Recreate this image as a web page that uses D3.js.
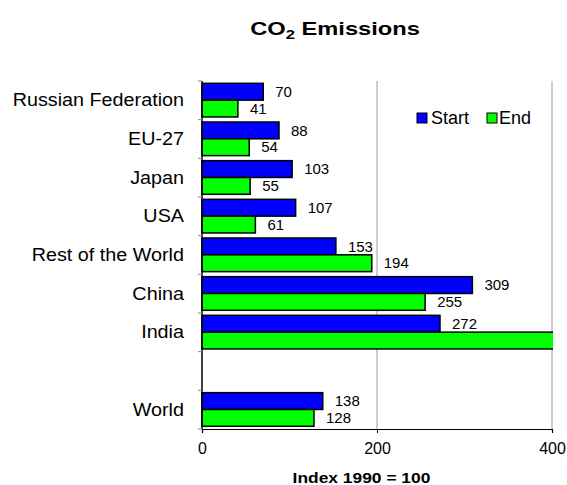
<!DOCTYPE html>
<html>
<head>
<meta charset="utf-8">
<script src="https://cdn.jsdelivr.net/npm/d3@7"></script>
<style>
    body { margin: 0; background: #fff; }
    svg { font-family: Arial, "Liberation Sans", sans-serif; }
</style>
</head>
<body>
<svg id="chart" width="567" height="485"></svg>
<script>
// chart data, top to bottom ('' is the empty gap row)
const categories = ['Russian Federation', 'EU-27', 'Japan', 'USA', 'Rest of the World', 'China', 'India', '', 'World'];
const startValues = [70, 88, 103, 107, 153, 309, 272, null, 138];
const endValues = [41, 54, 55, 61, 194, 255, 450, null, 128];
const seriesNames = ['Start', 'End'];
const seriesColors = ['#0000ff', '#00ff00'];
const xTicks = [0, 200, 400];

const svg = d3.select('#chart');
const plotLeft = 202, plotRight = 552, plotTop = 81, plotBottom = 429;

const x = d3.scaleLinear().domain([0, 400]).range([plotLeft, plotRight]);
const y = d3.scaleBand().domain(categories).range([plotTop, plotBottom]).padding(0);
const step = y.bandwidth();
const ySub = d3.scaleBand().domain(seriesNames)
    .range([step * 0.06, step * 0.93]).padding(0);

// clip for bars beyond the axis max
svg.append('clipPath').attr('id', 'plotClip')
    .append('rect')
    .attr('x', plotLeft - 2).attr('y', plotTop)
    .attr('width', plotRight - plotLeft + 3).attr('height', plotBottom - plotTop);

// gridlines
svg.append('g')
    .selectAll('line')
    .data(xTicks.slice(1))
    .enter()
    .append('line')
    .attr('x1', d => x(d)).attr('x2', d => x(d))
    .attr('y1', plotTop).attr('y2', plotBottom)
    .attr('stroke', '#9a9a9a')
    .attr('stroke-width', 1);

// flatten into one item per bar
const bars = [];
categories.forEach((c, i) => {
    if (startValues[i] === null) return;
    [startValues[i], endValues[i]].forEach((v, j) => bars.push({ cat: c, v: v, j: j }));
});

svg.append('g')
    .attr('clip-path', 'url(#plotClip)')
    .selectAll('rect')
    .data(bars)
    .enter()
    .append('rect')
    .attr('x', x(0))
    .attr('y', d => y(d.cat) + ySub(seriesNames[d.j]))
    .attr('width', d => x(d.v) - x(0))
    .attr('height', ySub.bandwidth())
    .attr('fill', d => seriesColors[d.j])
    .attr('stroke', '#000')
    .attr('stroke-width', 1.5);

// value labels (the one past the axis max is not shown)
svg.append('g')
    .selectAll('text')
    .data(bars.filter(d => d.v <= 400))
    .enter()
    .append('text')
    .attr('x', d => x(d.v) + 12)
    .attr('y', d => y(d.cat) + ySub(seriesNames[d.j]) + ySub.bandwidth() / 2)
    .attr('dy', '0.35em')
    .attr('font-size', 15)
    .text(d => d.v);

// x axis
const xAxis = svg.append('g')
    .attr('transform', `translate(0,${plotBottom})`)
    .call(d3.axisBottom(x).tickValues(xTicks).tickSize(4).tickPadding(10));
xAxis.select('.domain').attr('stroke', '#000').attr('stroke-width', 1.2);
xAxis.selectAll('.tick line').attr('stroke', '#000');
xAxis.selectAll('.tick text').attr('font-size', 16).attr('font-family', null).attr('fill', '#000');

// y axis: line plus ticks on the band edges
svg.append('line')
    .attr('x1', plotLeft).attr('x2', plotLeft)
    .attr('y1', plotTop).attr('y2', plotBottom)
    .attr('stroke', '#000').attr('stroke-width', 1.5);

const edges = categories.map(c => y(c)).concat([plotBottom]);
svg.append('g')
    .selectAll('line')
    .data(edges)
    .enter()
    .append('line')
    .attr('x1', plotLeft - 4).attr('x2', plotLeft)
    .attr('y1', d => d).attr('y2', d => d)
    .attr('stroke', '#888');

// category labels (the source text is a bit wider than Arial, so stretch it)
svg.append('g')
    .selectAll('text')
    .data(categories)
    .enter()
    .append('text')
    .attr('transform', d => `translate(184,${y(d) + step / 2}) scale(1.13,1)`)
    .attr('dy', '0.35em')
    .attr('text-anchor', 'end')
    .attr('font-size', 17.5)
    .text(d => d);

// title with subscript
const title = svg.append('text')
    .attr('transform', 'translate(335,34.5) scale(1.28,1)')
    .attr('text-anchor', 'middle')
    .attr('font-size', 18.5)
    .attr('font-weight', 'bold');
title.append('tspan').text('CO');
title.append('tspan').attr('font-size', 13).attr('dy', 4).text('2');
title.append('tspan').attr('dy', -4).text(' Emissions');

// axis title
svg.append('text')
    .attr('transform', 'translate(361.5,482.5) scale(1.16,1)')
    .attr('text-anchor', 'middle')
    .attr('font-size', 15)
    .attr('font-weight', 'bold')
    .text('Index 1990 = 100');

// legend
const legendX = [417, 487];
const legend = svg.append('g')
    .selectAll('g')
    .data(seriesNames)
    .enter()
    .append('g')
    .attr('transform', (d, i) => `translate(${legendX[i]},113)`);
legend.append('rect')
    .attr('width', 10).attr('height', 10)
    .attr('fill', (d, i) => seriesColors[i])
    .attr('stroke', '#000').attr('stroke-width', 1);
legend.append('text')
    .attr('x', (d, i) => [14, 12][i]).attr('y', 10.5)
    .attr('font-size', 18)
    .text(d => d);
</script>
</body>
</html>
